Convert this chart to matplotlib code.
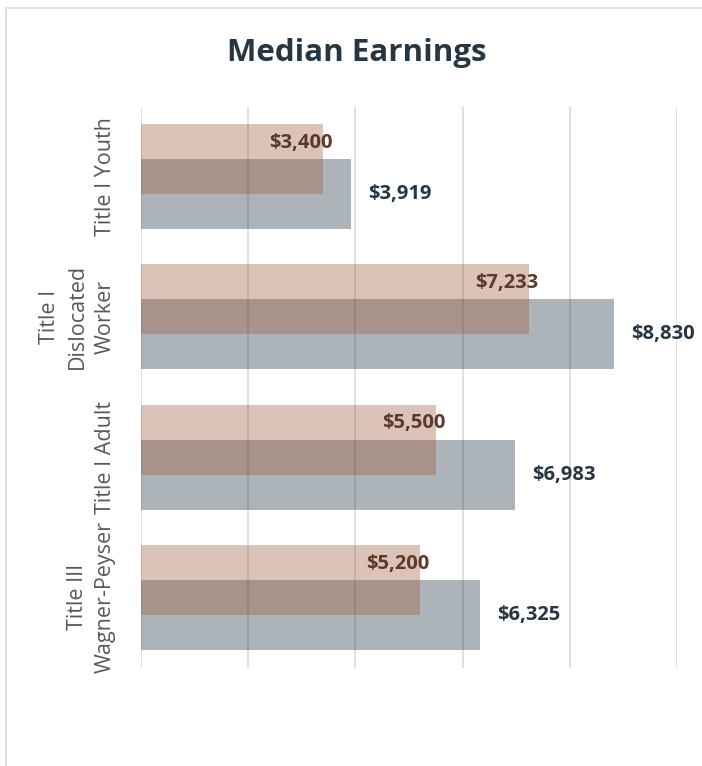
import matplotlib.pyplot as plt
from matplotlib.patches import Rectangle

categories = ['Title I Youth', 'Title I\nDislocated\nWorker', 'Title I Adult', 'Title III\nWagner-Peyser']
series_a = [3400, 7233, 5500, 5200]   # pink (upper)
series_b = [3919, 8830, 6983, 6325]   # gray (lower)
labels_a = ['$3,400', '$7,233', '$5,500', '$5,200']
labels_b = ['$3,919', '$8,830', '$6,983', '$6,325']

pink = (159/255, 91/255, 61/255)
slate = (39/255, 58/255, 73/255)

fig = plt.figure(figsize=(7.02, 7.66), dpi=100)
fig.patches.append(Rectangle((6/702, -0.1), 1.2, (766 - 8)/766 + 0.1, transform=fig.transFigure,
                             fill=False, edgecolor='#D9D9D9', linewidth=1.2))

ax = fig.add_axes([141/702, 1 - 667.5/766, 536/702, 561/766])

ypos = list(range(len(categories)))
h = 0.5
ax.barh([y + 0.125 for y in ypos], series_b, height=h, color=slate, alpha=0.38, zorder=2)
ax.barh([y - 0.125 for y in ypos], series_a, height=h, color=pink, alpha=0.366, zorder=3)

for y, v, t in zip(ypos, series_a, labels_a):
    ax.annotate(t, (v, y - 0.25), xytext=(7, -1), textcoords='offset points',
                ha='right', va='center', fontsize=14.5, fontweight='bold',
                color='#5B3A2C', family='Open Sans', zorder=5)
for y, v, t in zip(ypos, series_b, labels_b):
    ax.annotate(t, (v, y + 0.125), xytext=(12, 0), textcoords='offset points',
                ha='left', va='center', fontsize=14.5, fontweight='bold',
                color='#263642', family='Open Sans', zorder=5)

ax.set_xlim(0, 10000)
ax.set_ylim(3.5, -0.5)
ax.set_xticks(range(0, 10001, 2000))
ax.set_xticklabels([])
ax.tick_params(axis='x', length=0)
ax.grid(axis='x', color='#D9D9D9', linewidth=1.2)
ax.set_axisbelow(True)
for s in ax.spines.values():
    s.set_visible(False)

ax.set_yticks(ypos)
ax.set_yticklabels(categories, rotation=90, va='center', ha='right',
                   multialignment='center', fontsize=15.5, color='#595959',
                   family='Open Sans', linespacing=1.45)
ax.tick_params(axis='y', length=0, pad=18)

fig.text(357/702, 1 - 53/766, 'Median Earnings', ha='center', va='center',
         fontsize=22.5, fontweight='bold', color='#263642', family='Open Sans')

fig.savefig('out.png', dpi=100)
